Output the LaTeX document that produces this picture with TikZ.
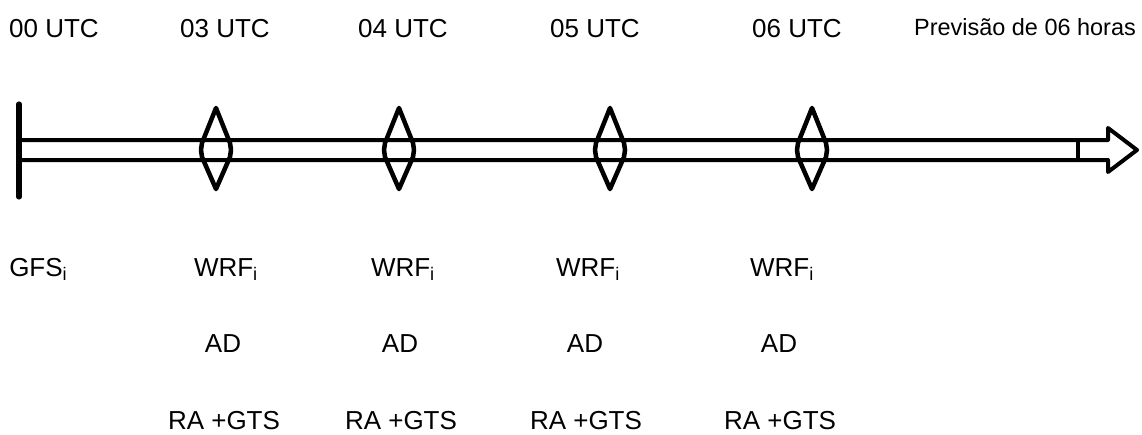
\documentclass[tikz,border=0pt]{standalone}
\usepackage{fontspec}
\setmainfont{Liberation Sans}
\begin{document}
\begin{tikzpicture}[x=0.75pt,y=-0.75pt,
  lbl/.style={inner sep=0pt,anchor=base,font=\fontsize{19.5pt}{23pt}\selectfont},
  small/.style={inner sep=0pt,anchor=base,font=\fontsize{17.6pt}{21pt}\selectfont},
  shaft/.style={line width=3pt,line join=round},
  dmd/.style={line width=3.4pt,line join=round,line cap=round}]
\useasboundingbox (0,0) rectangle (1142,435);
% time labels
\node[lbl] (t0) at (54,38) {00 UTC};
\node[lbl] (t3) at (225,38) {03 UTC};
\node[lbl] (t4) at (403,38) {04 UTC};
\node[lbl] (t5) at (595,38) {05 UTC};
\node[lbl] (t6) at (797,38) {06 UTC};
\node[small] (prev) at (1025,36) {Previsão de 06 horas};
% arrow
\coordinate (s0t) at (19,140);
\coordinate (s0b) at (19,160);
\draw[shaft] (s0t) -- (1108,140) -- (1108,128) -- (1137,150) -- (1108,172) -- (1108,160) -- (s0b);
\draw[shaft] (1078,140) -- (1078,160);
\draw[line width=3.8pt,line cap=round] (19,104) -- (19,197);
% diamonds
\foreach \cx/\nm in {216/d1,399/d2,610/d3,812/d4}{
  \coordinate (\nm) at (\cx,149);
  \draw[dmd] (\cx,108) -- (\cx+14,143) -- (\cx+15,150) -- (\cx+14,157) -- (\cx,189) -- (\cx-14,157) -- (\cx-15,150) -- (\cx-14,143) -- cycle;
}
% bottom labels
\node[lbl,anchor=base west] (g) at (9,276) {GFS\textsubscript{i}};
\foreach \x/\n in {226/a,403/b,588/c,782/d}{
  \node[lbl] (w\n) at (\x,276) {WRF\textsubscript{i}};
  \node[lbl] (ad\n) at (\x-3,352) {AD};
  \node[lbl] (ra\n) at (\x-2,429) {RA +GTS};
}
\end{tikzpicture}
\end{document}
